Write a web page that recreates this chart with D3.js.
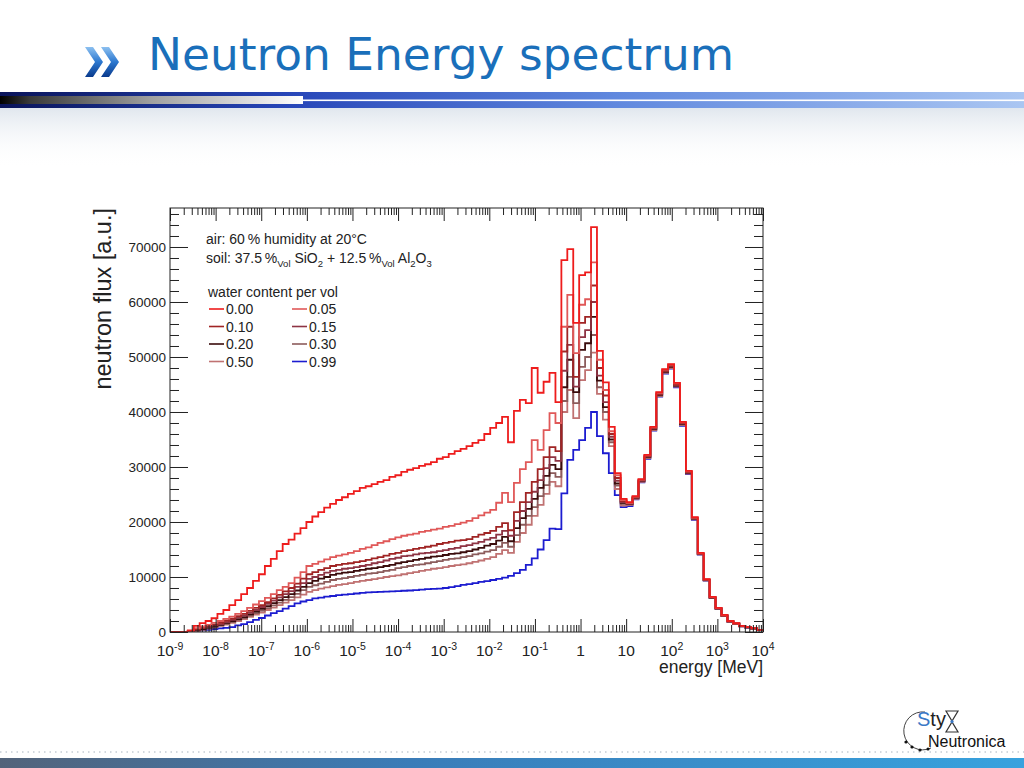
<!DOCTYPE html>
<html>
<head>
<meta charset="utf-8">
<script src="https://cdn.jsdelivr.net/npm/d3@7"></script>
<style>
  html, body { margin: 0; padding: 0; background: #fff; }
  svg { display: block; font-family: "Liberation Sans", Arial, sans-serif; }
</style>
</head>
<body>
<svg id="slide" width="1024" height="768"></svg>
<script>
// -------------------- DATA --------------------
// histogram: 100 log bins from 1e-9 MeV to 1e4 MeV
const nBins = 100;
const energyMin = 1e-9;
const energyMax = 1e4;

const waterLabels = ["0.00", "0.05", "0.10", "0.15", "0.20", "0.30", "0.50", "0.99"];

const flux000 = [0,0,0,300,1100,1600,2000,2500,3300,4000,
  4900,5800,6900,8000,9300,10500,12000,13300,14700,16000,
  16800,17900,18900,20000,21000,21800,22600,23300,24000,24500,
  25100,25600,26200,26500,26900,27300,27600,28200,28500,29100,
  29500,29800,30200,30500,30900,31500,31800,32400,32900,33300,
  33800,34400,34900,36000,37100,38000,39100,34500,40200,42200,
  41600,48000,43500,45500,47100,41800,67600,69600,56200,64900,
  65400,73600,51100,45400,37300,28900,24200,23600,24700,27800,
  32200,37300,43600,47800,48700,45300,38200,29300,20900,14400,
  9600,6400,4400,3100,2000,1600,1100,900,700,400];

const flux005 = [0,0,0,200,700,1000,1300,1650,2000,2400,
  2800,3300,3800,4400,5000,5600,6200,6900,7600,8200,
  8900,9900,10900,12000,12400,12800,13200,13600,13900,14100,
  14400,14700,15100,15400,15800,16200,16500,16900,17200,17500,
  17700,17900,18200,18400,18600,18800,19100,19300,19600,19900,
  20200,20700,21200,21700,22200,23500,25300,23600,27100,29600,
  30900,34900,33100,36700,39800,38000,55500,61300,50700,59500,
  60500,67200,49500,44000,36500,28500,24000,23500,24600,27700,
  32100,37200,43500,47700,48600,45200,38100,29200,20800,14300,
  9550,6350,4350,3050,2000,1550,1100,880,680,400];

const flux010 = [0,0,0,150,550,800,1100,1350,1650,2050,
  2450,2900,3300,3850,4400,4900,5450,6100,6750,7400,
  8000,8800,9700,10500,10900,11300,11600,12000,12200,12400,
  12500,12700,12900,13100,13400,13600,13900,14200,14400,14700,
  14900,15100,15300,15500,15700,16000,16200,16400,16600,16700,
  16900,17300,17700,18000,18400,19100,19800,18500,21800,23600,
  25300,27300,29600,31800,33600,32900,51000,55500,46400,56200,
  57300,63000,48000,43000,36000,28000,23800,23400,24500,27600,
  32000,37100,43300,47500,48400,45000,38000,29100,20700,14250,
  9500,6300,4300,3000,1950,1550,1080,870,670,390];

const flux015 = [0,0,0,120,450,700,950,1200,1450,1800,
  2200,2600,3000,3500,4000,4550,5100,5700,6300,6900,
  7450,8200,8900,9650,10000,10400,10800,11100,11300,11500,
  11600,11800,12000,12200,12500,12700,13000,13300,13500,13800,
  13900,14100,14300,14400,14500,14700,14900,15100,15300,15600,
  15800,16100,16400,16800,17100,17700,18400,17500,20200,22000,
  23600,25500,27600,29800,31800,31100,47500,52200,44600,53600,
  54900,60000,46600,41800,35500,27500,23600,23350,24450,27500,
  31900,37000,43200,47400,48300,44900,37900,29000,20650,14200,
  9450,6300,4300,3000,1950,1520,1070,860,660,390];

const flux020 = [0,0,0,100,350,550,800,1050,1300,1650,
  2000,2350,2700,3200,3700,4200,4700,5250,5800,6350,
  6900,7550,8200,8900,9300,9700,10000,10400,10600,10800,
  10900,11100,11300,11500,11600,11800,12000,12200,12500,12700,
  12900,13100,13300,13500,13700,13800,14000,14200,14300,14500,
  14700,15000,15300,15700,16000,16600,17300,16500,18900,20700,
  22400,24200,26200,28400,30400,29600,44500,49500,43600,51300,
  52500,57300,45700,40900,35000,27000,23500,23300,24400,27450,
  31800,36900,43100,47300,48200,44800,37800,28950,20600,14200,
  9450,6250,4280,2980,1930,1500,1060,850,650,380];

const flux030 = [0,0,0,80,270,480,700,950,1200,1500,
  1800,2200,2550,3000,3450,3900,4350,4850,5350,5850,
  6350,6950,7600,8200,8500,8800,9100,9450,9650,9800,
  10000,10200,10400,10600,10700,10900,11100,11300,11600,11800,
  12000,12200,12300,12500,12700,12900,13100,13300,13400,13600,
  13800,14100,14300,14600,14900,15500,16200,15500,17600,19500,
  21100,22700,24700,26700,28900,28200,42000,46400,41600,48200,
  50000,54000,44500,40000,34500,26600,23300,23200,24300,27400,
  31700,36800,43000,47200,48100,44700,37700,28900,20550,14150,
  9400,6250,4250,2970,1920,1500,1050,840,640,380];

const flux050 = [0,0,0,60,180,380,600,850,1100,1350,
  1650,2000,2350,2750,3150,3550,4000,4450,4900,5350,
  5800,6300,6800,7300,7600,7900,8100,8350,8550,8700,
  8900,9100,9300,9450,9600,9800,10000,10150,10300,10500,
  10700,10900,11100,11300,11500,11600,11800,12000,12150,12300,
  12500,12750,13000,13300,13600,14200,14900,14400,16400,18000,
  19500,21100,23100,25100,27300,26500,40000,44000,38900,45800,
  47600,50800,43300,38600,33800,26000,23000,23100,24200,27300,
  31600,36700,42900,47100,48000,44600,37600,28800,20500,14100,
  9400,6200,4250,2950,1900,1480,1040,830,630,370];

const flux099 = [0,0,0,50,200,300,400,550,650,750,
  900,1200,1450,1800,2200,2550,3000,3450,3800,4250,
  4700,5200,5550,5800,6100,6250,6450,6550,6700,6800,
  6900,7000,7100,7200,7250,7300,7350,7400,7450,7500,
  7550,7600,7700,7800,7850,7900,8000,8150,8350,8550,
  8700,8900,9100,9250,9450,9650,9900,10200,10700,11300,
  12200,13400,15000,16700,18800,18700,25200,31300,33100,34900,
  37100,40000,35600,32500,28900,24900,22700,22900,24100,27200,
  31500,36600,42800,47000,47900,44500,37500,28700,20400,14050,
  9350,6200,4200,2950,1900,1480,1030,820,620,370];

const fluxSeries = [flux000, flux005, flux010, flux015, flux020, flux030, flux050, flux099];

// tick values
const yMajorTicks = [0, 10000, 20000, 30000, 40000, 50000, 60000, 70000];
const xDecades = [-9, -8, -7, -6, -5, -4, -3, -2, -1, 0, 1, 2, 3, 4];

// couleurs des courbes
const lineColors = ["#ee1c1c", "#e05858", "#a02424", "#8e3444", "#3a0c0c", "#8c5c5c", "#c07272", "#1c1cd0"];

// -------------------- SLIDE --------------------
const svg = d3.select("#slide");
const defs = svg.append("defs");

function addGradient(id, stops, vertical) {
  const g = defs.append("linearGradient").attr("id", id)
    .attr("x1", 0).attr("y1", 0)
    .attr("x2", vertical ? 0 : 1).attr("y2", vertical ? 1 : 0);
  stops.forEach(s => g.append("stop").attr("offset", s[0]).attr("stop-color", s[1]).attr("stop-opacity", s[2] == null ? 1 : s[2]));
}

addGradient("barGrad", [[0, "#0a145a"], [0.28, "#2746b8"], [0.6, "#6088de"], [1, "#aac6f2"]]);
addGradient("greyGrad", [[0, "#000"], [0.1, "#3a3a3a"], [0.5, "#a0a0a0"], [1, "#ffffff"]]);
addGradient("texGrad", [[0, "#dde4ec", 0.9], [1, "#ffffff", 0]], true);
addGradient("chevGrad", [[0, "#8cc0f0"], [0.5, "#2c78d0"], [1, "#0a3a8c"]], true);
addGradient("footGrad", [[0, "#52637a"], [0.4, "#3a7cb8"], [1, "#38a2de"]]);

// texture legere sous la barre
svg.append("rect").attr("x", 0).attr("y", 108).attr("width", 1024).attr("height", 60).attr("fill", "url(#texGrad)");

// barre horizontale
svg.append("rect").attr("x", 0).attr("y", 92).attr("width", 1024).attr("height", 16).attr("fill", "url(#barGrad)");
svg.append("rect").attr("x", 303).attr("y", 99.5).attr("width", 721).attr("height", 1.6).attr("fill", "#ffffff");
svg.append("rect").attr("x", 0).attr("y", 96).attr("width", 303).attr("height", 8).attr("fill", "url(#greyGrad)");

// chevrons du titre
[85, 101].forEach(cx => {
  svg.append("path")
    .attr("d", `M${cx},47 L${cx + 8},47 L${cx + 18},62 L${cx + 8},77 L${cx},77 L${cx + 10},62 Z`)
    .attr("fill", "url(#chevGrad)");
});

svg.append("text")
  .attr("x", 148).attr("y", 70)
  .attr("textLength", 586).attr("lengthAdjust", "spacingAndGlyphs")
  .style("font-family", "'DejaVu Sans', Verdana, sans-serif")
  .style("font-size", "45px")
  .style("fill", "#1a6fba")
  .text("Neutron Energy spectrum");

// -------------------- GRAPHIQUE --------------------
const plot = { left: 170, right: 763, top: 208, bottom: 632 };

const x = d3.scaleLog().domain([energyMin, energyMax]).range([plot.left, plot.right]);
const y = d3.scaleLinear().domain([0, 77090]).range([plot.bottom, plot.top]);

const binEdges = d3.range(nBins + 1).map(i => Math.pow(10, Math.log10(energyMin) + (Math.log10(energyMax) - Math.log10(energyMin)) * i / nBins));

defs.append("clipPath").attr("id", "plotClip")
  .append("rect").attr("x", plot.left).attr("y", plot.top)
  .attr("width", plot.right - plot.left).attr("height", plot.bottom - plot.top);

const stepLine = d3.line()
  .x(d => x(d[0]))
  .y(d => y(d[1]))
  .curve(d3.curveStepAfter);

function histPoints(vals) {
  const pts = vals.map((v, i) => [binEdges[i], v]);
  pts.push([binEdges[nBins], vals[nBins - 1]]);
  return pts;
}

const curves = svg.append("g").attr("clip-path", "url(#plotClip)");
// 0.99 dessine en premier, 0.00 au dessus
for (let k = fluxSeries.length - 1; k >= 0; k--) {
  curves.append("path")
    .attr("d", stepLine(histPoints(fluxSeries[k])))
    .attr("fill", "none")
    .attr("stroke", lineColors[k])
    .attr("stroke-width", 1.8)
    .attr("stroke-linejoin", "miter");
}

// axes (ticks vers l'interieur, style ROOT)
const xMajor = xDecades.map(e => Math.pow(10, e));
const xMinor = [];
xDecades.slice(0, -1).forEach(e => { for (let m = 2; m <= 9; m++) xMinor.push(m * Math.pow(10, e)); });
const yMinor = d3.range(0, 77000, 2000).filter(v => v % 10000 !== 0);

function styleAxis(g) {
  g.select(".domain").remove();
  g.selectAll("line").attr("stroke", "#222").attr("stroke-width", 1);
}

svg.append("g").attr("transform", `translate(0,${plot.bottom})`)
  .call(d3.axisBottom(x).tickValues(xMajor).tickSize(-13).tickSizeOuter(0).tickFormat("")).call(styleAxis);
svg.append("g").attr("transform", `translate(0,${plot.bottom})`)
  .call(d3.axisBottom(x).tickValues(xMinor).tickSize(-7).tickSizeOuter(0).tickFormat("")).call(styleAxis);
svg.append("g").attr("transform", `translate(0,${plot.top})`)
  .call(d3.axisTop(x).tickValues(xMajor).tickSize(-13).tickSizeOuter(0).tickFormat("")).call(styleAxis);
svg.append("g").attr("transform", `translate(0,${plot.top})`)
  .call(d3.axisTop(x).tickValues(xMinor).tickSize(-7).tickSizeOuter(0).tickFormat("")).call(styleAxis);

svg.append("g").attr("transform", `translate(${plot.left},0)`)
  .call(d3.axisLeft(y).tickValues(yMajorTicks).tickSize(-18).tickSizeOuter(0).tickFormat("")).call(styleAxis);
svg.append("g").attr("transform", `translate(${plot.left},0)`)
  .call(d3.axisLeft(y).tickValues(yMinor).tickSize(-9).tickSizeOuter(0).tickFormat("")).call(styleAxis);
svg.append("g").attr("transform", `translate(${plot.right},0)`)
  .call(d3.axisRight(y).tickValues(yMajorTicks).tickSize(-18).tickSizeOuter(0).tickFormat("")).call(styleAxis);
svg.append("g").attr("transform", `translate(${plot.right},0)`)
  .call(d3.axisRight(y).tickValues(yMinor).tickSize(-9).tickSizeOuter(0).tickFormat("")).call(styleAxis);

// cadre
svg.append("rect")
  .attr("x", plot.left).attr("y", plot.top)
  .attr("width", plot.right - plot.left).attr("height", plot.bottom - plot.top)
  .attr("fill", "none").attr("stroke", "#222").attr("stroke-width", 1);

// etiquettes axe y
svg.selectAll(".ylab")
  .data(yMajorTicks)
  .enter()
  .append("text")
  .attr("class", "ylab")
  .attr("x", 166)
  .attr("y", d => y(d) + 5)
  .attr("text-anchor", "end")
  .style("font-size", "13.5px")
  .style("fill", "#222")
  .text(d => d);

// etiquettes axe x (puissances de 10)
const xLabels = svg.selectAll(".xlab")
  .data(xDecades)
  .enter()
  .append("text")
  .attr("class", "xlab")
  .attr("x", d => x(Math.pow(10, d)))
  .attr("y", 656)
  .attr("text-anchor", "middle")
  .style("font-size", "15.5px")
  .style("fill", "#222");

xLabels.each(function (e) {
  const t = d3.select(this);
  if (e === 0) { t.text("1"); return; }
  if (e === 1) { t.text("10"); return; }
  t.append("tspan").text("10");
  t.append("tspan").attr("dy", -6.5).style("font-size", "10.5px").text(e);
});

// titres des axes
svg.append("text")
  .attr("x", 763).attr("y", 673)
  .attr("text-anchor", "end")
  .style("font-size", "17.5px")
  .style("fill", "#222")
  .text("energy [MeV]");

svg.append("text")
  .attr("transform", "translate(111,208) rotate(-90)")
  .attr("text-anchor", "end")
  .style("font-size", "23.5px")
  .style("fill", "#222")
  .text("neutron flux [a.u.]");

// -------------------- LEGENDE --------------------
const info = svg.append("g").style("font-size", "14px").style("fill", "#222");

info.append("text").attr("x", 206).attr("y", 244).text("air: 60\u2009% humidity at 20\u00B0C");

const soil = info.append("text").attr("x", 206).attr("y", 263);
soil.append("tspan").text("soil: 37.5\u2009%");
soil.append("tspan").attr("dy", 4).style("font-size", "9.5px").text("Vol");
soil.append("tspan").attr("dy", -4).text(" SiO");
soil.append("tspan").attr("dy", 4).style("font-size", "9.5px").text("2");
soil.append("tspan").attr("dy", -4).text(" + 12.5\u2009%");
soil.append("tspan").attr("dy", 4).style("font-size", "9.5px").text("Vol");
soil.append("tspan").attr("dy", -4).text(" Al");
soil.append("tspan").attr("dy", 4).style("font-size", "9.5px").text("2");
soil.append("tspan").attr("dy", -4).text("O");
soil.append("tspan").attr("dy", 4).style("font-size", "9.5px").text("3");

info.append("text").attr("x", 208).attr("y", 297).text("water content per vol");

const legendCols = [209, 292];
const legendRows = [309, 326.5, 344, 361.5];
const entries = info.selectAll(".entry")
  .data(waterLabels)
  .enter()
  .append("g")
  .attr("class", "entry")
  .attr("transform", (d, i) => `translate(${legendCols[i % 2]},${legendRows[Math.floor(i / 2)]})`);

entries.append("line")
  .attr("x1", 0).attr("x2", 15).attr("y1", 0).attr("y2", 0)
  .attr("stroke", (d, i) => lineColors[i])
  .attr("stroke-width", 1.6);

entries.append("text")
  .attr("x", 17).attr("y", 5)
  .text(d => d);

// -------------------- PIED DE PAGE --------------------
svg.append("line")
  .attr("x1", 0).attr("x2", 1024).attr("y1", 752).attr("y2", 752)
  .attr("stroke", "#a8b4c0").attr("stroke-width", 1.2).attr("stroke-dasharray", "1.5,4");
svg.append("rect").attr("x", 0).attr("y", 758).attr("width", 1024).attr("height", 10).attr("fill", "url(#footGrad)");

// logo StyX Neutronica
const logo = svg.append("g");
logo.append("path")
  .attr("d", "M925,712 A19,19 0 1 0 931,748")
  .attr("fill", "none").attr("stroke", "#444").attr("stroke-width", 1);
[[906, 742], [912, 747], [920, 750], [928, 749]].forEach(p => {
  logo.append("circle").attr("cx", p[0]).attr("cy", p[1]).attr("r", 1.6).attr("fill", "#111");
});
const styText = logo.append("text").attr("x", 917).attr("y", 726).style("font-size", "20px");
styText.append("tspan").style("fill", "#3a78c6").text("S");
styText.append("tspan").style("fill", "#222").text("ty");
logo.append("path")
  .attr("d", "M946,711 L958,711 L952,721 Z M946,732 L958,732 L952,722 Z")
  .attr("fill", "none").attr("stroke", "#333").attr("stroke-width", 1.2);
logo.append("circle").attr("cx", 952).attr("cy", 721.5).attr("r", 1.6).attr("fill", "#3a78c6");
logo.append("text").attr("x", 928).attr("y", 747).style("font-size", "16px").style("fill", "#111").text("Neutronica");
</script>
</body>
</html>
